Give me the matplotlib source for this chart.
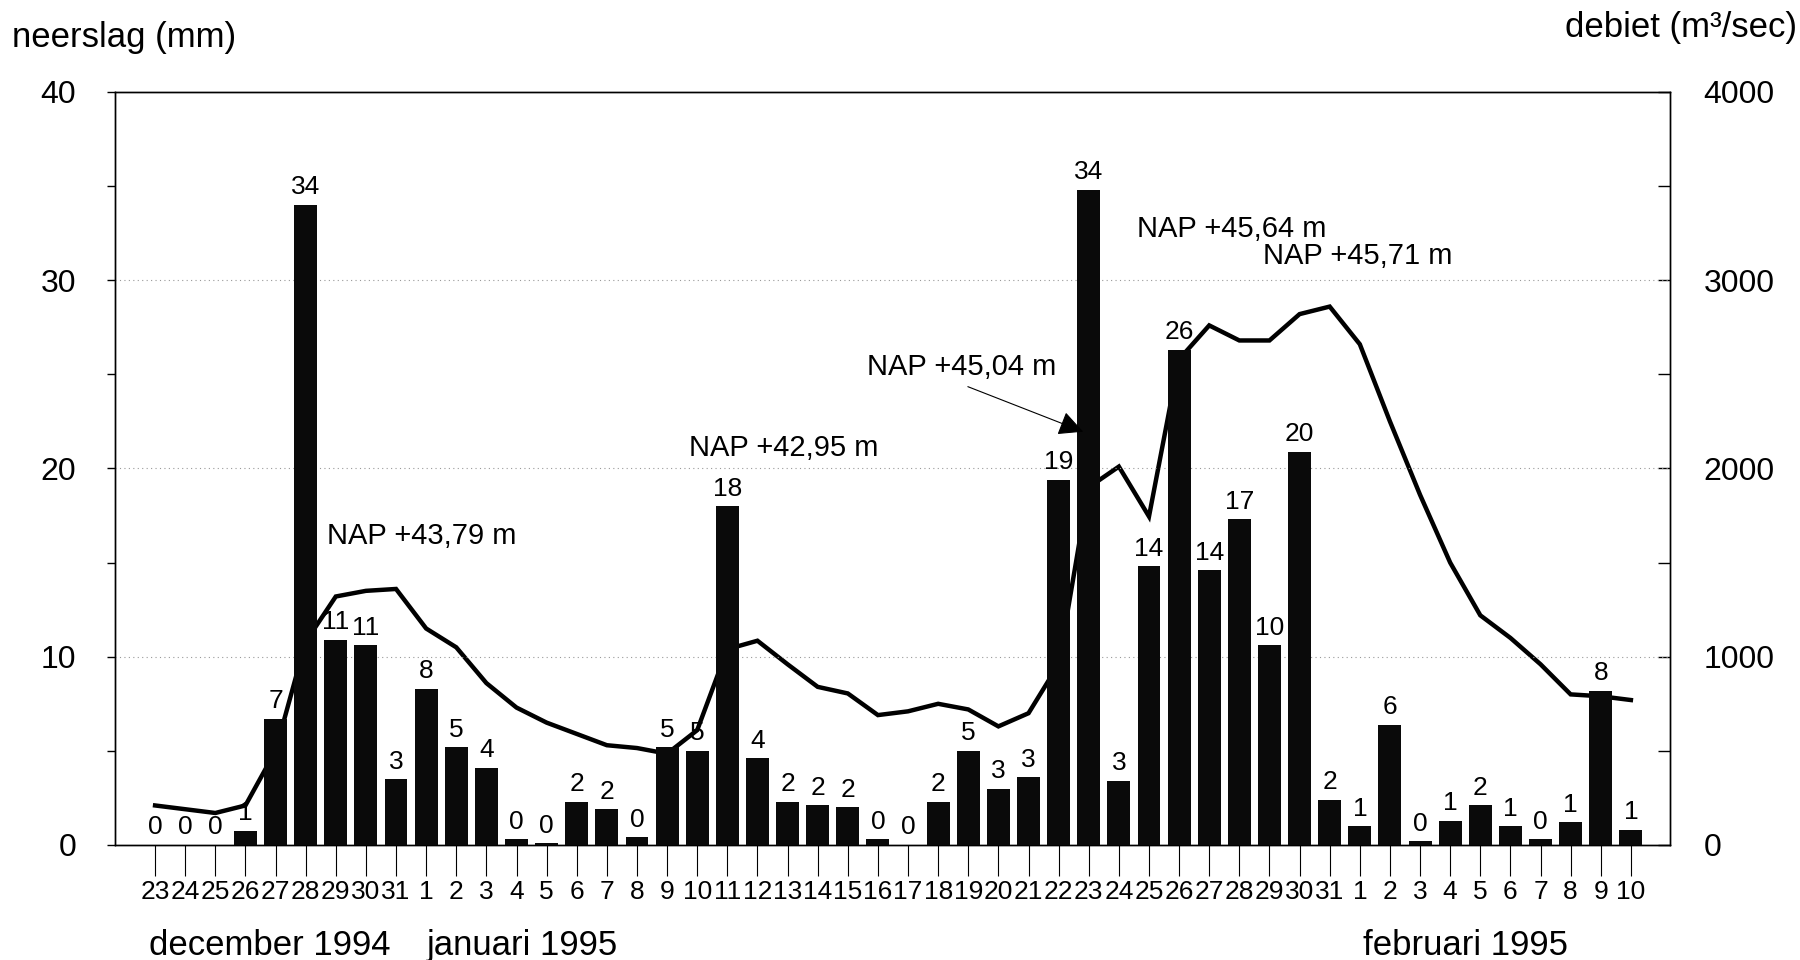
import matplotlib
matplotlib.use("Agg")
import matplotlib.pyplot as plt

plt.rcParams['font.family'] = ['Liberation Sans', 'DejaVu Sans']

# dagen: 23 dec 1994 t/m 10 feb 1995
days = [23, 24, 25, 26, 27, 28, 29, 30, 31,
        1, 2, 3, 4, 5, 6, 7, 8, 9, 10, 11, 12, 13, 14, 15, 16,
        17, 18, 19, 20, 21, 22, 23, 24, 25, 26, 27, 28, 29, 30, 31,
        1, 2, 3, 4, 5, 6, 7, 8, 9, 10]

# neerslag per dag (mm)
neerslag = [0.0, 0.0, 0.0, 0.75, 6.7, 34.0, 10.9, 10.6, 3.5,
            8.3, 5.2, 4.1, 0.3, 0.1, 2.3, 1.9, 0.4, 5.2, 5.0, 18.0, 4.6,
            2.3, 2.1, 2.0, 0.3, 0.0, 2.3, 5.0, 3.0, 3.6, 19.4, 34.8,
            3.4, 14.8, 26.3, 14.6, 17.3, 10.6, 20.9, 2.4,
            1.0, 6.4, 0.2, 1.3, 2.1, 1.0, 0.3, 1.2, 8.2, 0.8]
neerslag_labels = ["0", "0", "0", "1", "7", "34", "11", "11", "3",
                   "8", "5", "4", "0", "0", "2", "2", "0", "5", "5", "18", "4",
                   "2", "2", "2", "0", "0", "2", "5", "3", "3", "19", "34",
                   "3", "14", "26", "14", "17", "10", "20", "2",
                   "1", "6", "0", "1", "2", "1", "0", "1", "8", "1"]

# debiet (m3/sec)
debiet = [210, 190, 170, 210, 500, 1080, 1320, 1350, 1360,
          1150, 1050, 860, 730, 650, 590, 530, 515, 485, 610, 1040, 1085,
          960, 840, 805, 690, 710, 750, 720, 630, 700, 960, 1900,
          2010, 1745, 2580, 2760, 2680, 2680, 2820, 2860,
          2660, 2250, 1860, 1500, 1220, 1100, 960, 800, 790, 770]

months = ["december 1994", "januari 1995", "februari 1995"]
nap_labels = ["NAP +43,79 m", "NAP +42,95 m", "NAP +45,04 m",
              "NAP +45,64 m", "NAP +45,71 m"]

fig = plt.figure(figsize=(18, 9.6), dpi=100)
ax = fig.add_axes([0.0639, 0.1198, 0.8639, 0.7844])
ax2 = ax.twinx()
ax.set_zorder(ax2.get_zorder() + 1)
ax.patch.set_visible(False)

x = list(range(len(days)))

# debiet lijn (achter de staven)
ax2.plot(x, debiet, color='black', lw=3.2, solid_joinstyle='miter')
ax2.set_ylim(0, 4000)
ax2.set_yticks([0, 1000, 2000, 3000, 4000])
ax2.set_yticks([500, 1500, 2500, 3500], minor=True)
ax2.tick_params(axis='y', which='both', direction='in', length=9, width=1,
                labelsize=23, pad=24)

# neerslag staven
ax.bar(x, neerslag, width=0.76, color='#0a0a0a', zorder=3)
for xi, v, lab in zip(x, neerslag, neerslag_labels):
    ax.annotate(lab, (xi, v), xytext=(0, 4), textcoords='offset points',
                ha='center', va='bottom', fontsize=19, zorder=4)

ax.set_xlim(-1.33, 50.3)
ax.set_ylim(0, 40)
ax.set_yticks([0, 10, 20, 30, 40])
ax.set_yticks([5, 15, 25, 35], minor=True)
ax.tick_params(axis='y', which='both', direction='out', length=6, width=1,
               labelsize=23, pad=22)
ax.set_xticks(x)
ax.set_xticklabels([str(d) for d in days])
ax.tick_params(axis='x', direction='out', length=22, width=0.8,
               labelsize=19, pad=3)
for gy in [10, 20, 30]:
    ax.axhline(gy, color='#999999', lw=0.8, ls=(0, (1, 3)), zorder=1)

for sp in list(ax.spines.values()) + list(ax2.spines.values()):
    sp.set_linewidth(1.0)

# maand labels
tr = ax.get_xaxis_transform()
ax.text(3.8, -0.134, months[0], transform=tr, ha='center', va='center', fontsize=25)
ax.text(12.2, -0.134, months[1], transform=tr, ha='center', va='center', fontsize=25)
ax.text(43.5, -0.134, months[2], transform=tr, ha='center', va='center', fontsize=25)

# waterstanden
ax.text(5.71, 16.4, nap_labels[0], ha='left', va='center', fontsize=21)
ax.text(17.73, 21.1, nap_labels[1], ha='left', va='center', fontsize=21)
ax.text(23.64, 25.4, nap_labels[2], ha='left', va='center', fontsize=21)
ax.text(32.6, 32.7, nap_labels[3], ha='left', va='center', fontsize=21)
ax.text(36.8, 31.3, nap_labels[4], ha='left', va='center', fontsize=21)
ax.annotate('', xy=(30.9, 21.9), xytext=(26.9, 24.4),
            arrowprops=dict(arrowstyle='-|>', color='black', lw=0.8,
                            mutation_scale=38), zorder=5)

fig.text(12 / 1800, 1 - 38 / 960, "neerslag (mm)", ha='left', va='center', fontsize=25)
fig.text(1797 / 1800, 1 - 27 / 960, "debiet (m³/sec)", ha='right', va='center', fontsize=25)

fig.savefig("out.png", dpi=100)
